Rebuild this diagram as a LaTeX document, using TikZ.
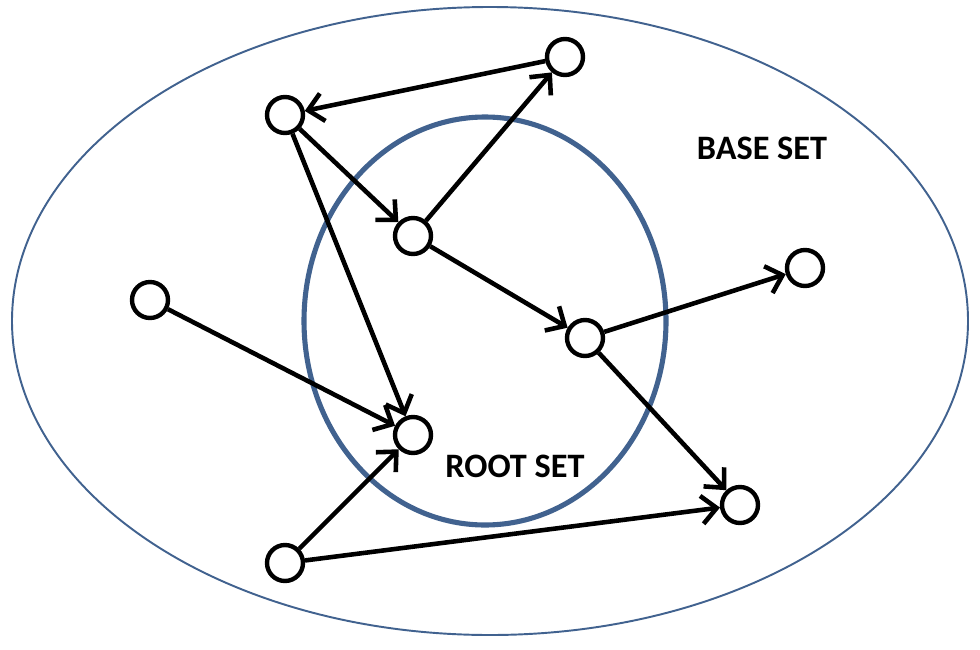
\documentclass[tikz,border=0pt]{standalone}
\usepackage{fontspec}
\setmainfont{Carlito}
\usetikzlibrary{arrows.meta}
\definecolor{setblue}{HTML}{41628F}

\begin{document}
\begin{tikzpicture}[x=0.02cm, y=-0.02cm,
    vertex/.style={circle, draw=black, line width=2.5pt, minimum size=0.72cm, inner sep=0pt},
    link/.style={line width=2.6pt, -{Straight Barb[length=8.5pt, width=16pt, line width=2.6pt]}},
    setlabel/.style={font=\bfseries\fontsize{19.5}{22}\selectfont}]
  \useasboundingbox (0,0) rectangle (980,649);
  % Sets
  \draw[setblue, line width=1.1pt] (490,321) ellipse [x radius=478, y radius=314];
  \draw[setblue, line width=2.9pt] (485,321) ellipse [x radius=181, y radius=204];
  \node[setlabel] (base) at (762,148) {BASE SET};
  \node[setlabel] (root) at (515,466) {ROOT SET};

  % Pages
  \node[vertex] (a) at (565,57) {};
  \node[vertex] (b) at (285,115) {};
  \node[vertex] (c) at (413,236) {};
  \node[vertex] (d) at (150,300) {};
  \node[vertex] (e) at (805,268) {};
  \node[vertex] (f) at (585,338) {};
  \node[vertex] (g) at (413,435) {};
  \node[vertex] (h) at (740,505) {};
  \node[vertex] (i) at (285,563) {};

  % Links
  \draw[link] (a) -- (b);
  \draw[link] (b) -- (c);
  \draw[link] (b) -- (g);
  \draw[link] (c) -- (a);
  \draw[link] (c) -- (f);
  \draw[link] (d) -- (g);
  \draw[link] (f) -- (e);
  \draw[link] (f) -- (h);
  \draw[link] (i) -- (g);
  \draw[link] (i) -- (h);
\end{tikzpicture}
\end{document}
